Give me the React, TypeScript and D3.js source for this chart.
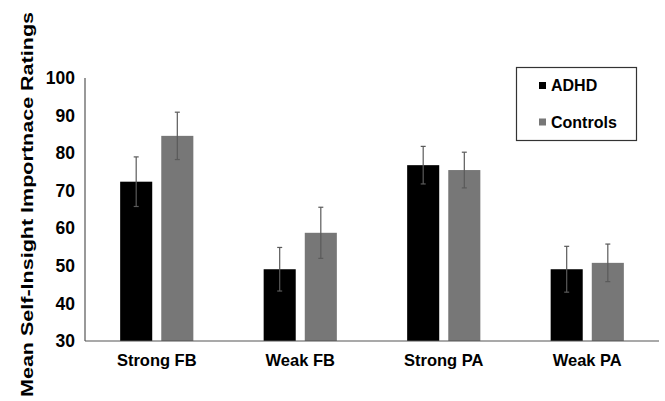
import React, { useEffect, useRef } from 'react';
import * as d3 from 'd3';

const categories = ['Strong FB', 'Weak FB', 'Strong PA', 'Weak PA'];
const seriesNames = ['ADHD', 'Controls'];
const seriesColors = ['#000000', '#777777'];
const adhdMeans = [72.4, 49.1, 76.8, 49.1];
const adhdErrors = [6.6, 5.8, 5.0, 6.1];
const controlsMeans = [84.6, 58.8, 75.5, 50.8];
const controlsErrors = [6.3, 6.8, 4.75, 5.0];
const yTicks = [30, 40, 50, 60, 70, 80, 90, 100];

const App = () => {
  const svgRef = useRef<SVGSVGElement | null>(null);

  useEffect(() => {
    if (!svgRef.current) return;
    d3.select(svgRef.current).selectAll('*').remove();

    const width = 665;
    const height = 401;
    const margin = { top: 78, right: 6, bottom: 60, left: 85 };
    const font = 'Liberation Sans, Arial, sans-serif';

    const svg = d3.select(svgRef.current)
      .attr('width', width)
      .attr('height', height)
      .style('background', '#fff');

    const x = d3.scaleBand<string>()
      .domain(categories)
      .range([margin.left, width - margin.right]);

    const inner = d3.scaleBand<string>()
      .domain(seriesNames)
      .range([0, x.bandwidth() * 0.51])
      .paddingInner(0.22);

    const y = d3.scaleLinear()
      .domain([30, 100])
      .range([height - margin.bottom, margin.top]);

    const rows = categories.map((c, i) => ({
      category: c,
      values: [
        { name: 'ADHD', mean: adhdMeans[i], err: adhdErrors[i] },
        { name: 'Controls', mean: controlsMeans[i], err: controlsErrors[i] },
      ],
    }));

    const groupOffset = (x.bandwidth() - x.bandwidth() * 0.51) / 2;

    const groups = svg.selectAll('g.group')
      .data(rows)
      .enter()
      .append('g')
      .attr('class', 'group')
      .attr('transform', d => `translate(${(x(d.category) ?? 0) + groupOffset},0)`);

    groups.selectAll('rect')
      .data(d => d.values)
      .enter()
      .append('rect')
      .attr('x', d => inner(d.name) ?? 0)
      .attr('y', d => y(d.mean))
      .attr('width', inner.bandwidth())
      .attr('height', d => y(30) - y(d.mean))
      .attr('fill', (d, i) => seriesColors[i]);

    // Error bars
    const err = groups.selectAll('g.err')
      .data(d => d.values)
      .enter()
      .append('g')
      .attr('class', 'err')
      .attr('stroke', '#5a5a5a')
      .attr('stroke-width', 1.2);

    err.append('line')
      .attr('x1', d => (inner(d.name) ?? 0) + inner.bandwidth() / 2)
      .attr('x2', d => (inner(d.name) ?? 0) + inner.bandwidth() / 2)
      .attr('y1', d => y(d.mean + d.err))
      .attr('y2', d => y(d.mean - d.err));

    [1, -1].forEach(sign => {
      err.append('line')
        .attr('x1', d => (inner(d.name) ?? 0) + inner.bandwidth() / 2 - 2.5)
        .attr('x2', d => (inner(d.name) ?? 0) + inner.bandwidth() / 2 + 2.5)
        .attr('y1', d => y(d.mean + sign * d.err))
        .attr('y2', d => y(d.mean + sign * d.err));
    });

    // Axes
    svg.append('line')
      .attr('x1', margin.left)
      .attr('x2', margin.left)
      .attr('y1', y(100))
      .attr('y2', y(30))
      .attr('stroke', '#555')
      .attr('stroke-width', 1.2);

    svg.append('line')
      .attr('x1', margin.left)
      .attr('x2', width - margin.right)
      .attr('y1', y(30))
      .attr('y2', y(30))
      .attr('stroke', '#555')
      .attr('stroke-width', 1.2);

    const yAxis = svg.append('g')
      .attr('transform', `translate(${margin.left},0)`)
      .call(d3.axisLeft(y).tickValues(yTicks).tickSize(0).tickPadding(10));
    yAxis.select('.domain').remove();
    yAxis.selectAll('text')
      .attr('font-family', font)
      .attr('font-size', '17.5px')
      .attr('font-weight', 'bold')
      .attr('fill', '#000');

    const xAxis = svg.append('g')
      .attr('transform', `translate(0,${y(30)})`)
      .call(d3.axisBottom(x).tickSize(0).tickPadding(13));
    xAxis.select('.domain').remove();
    xAxis.selectAll('text')
      .attr('font-family', font)
      .attr('font-size', '16.5px')
      .attr('font-weight', 'bold')
      .attr('fill', '#000');

    // Y title
    svg.append('text')
      .attr('transform', `translate(33,${(12 + 397) / 2}) rotate(-90)`)
      .attr('text-anchor', 'middle')
      .attr('font-family', font)
      .attr('font-size', '17px')
      .attr('font-weight', 'bold')
      .attr('textLength', 385)
      .attr('lengthAdjust', 'spacingAndGlyphs')
      .text('Mean Self-Insight Importnace Ratings');

    // Legend
    const legend = svg.append('g');
    legend.append('rect')
      .attr('x', 516.5)
      .attr('y', 67.5)
      .attr('width', 120)
      .attr('height', 73)
      .attr('fill', '#fff')
      .attr('stroke', '#333')
      .attr('stroke-width', 1.2);

    seriesNames.forEach((name, i) => {
      legend.append('rect')
        .attr('x', 539)
        .attr('y', 82 + i * 36.5)
        .attr('width', 7)
        .attr('height', 7)
        .attr('fill', seriesColors[i]);
      legend.append('text')
        .attr('x', 551)
        .attr('y', 91 + i * 36.5)
        .attr('font-family', font)
        .attr('font-size', '16px')
        .attr('font-weight', 'bold')
        .text(name);
    });
  }, []);

  return (
    <div style={{ position: 'absolute', left: 0, top: 0 }}>
      <svg ref={svgRef}></svg>
    </div>
  );
};

export default App;
